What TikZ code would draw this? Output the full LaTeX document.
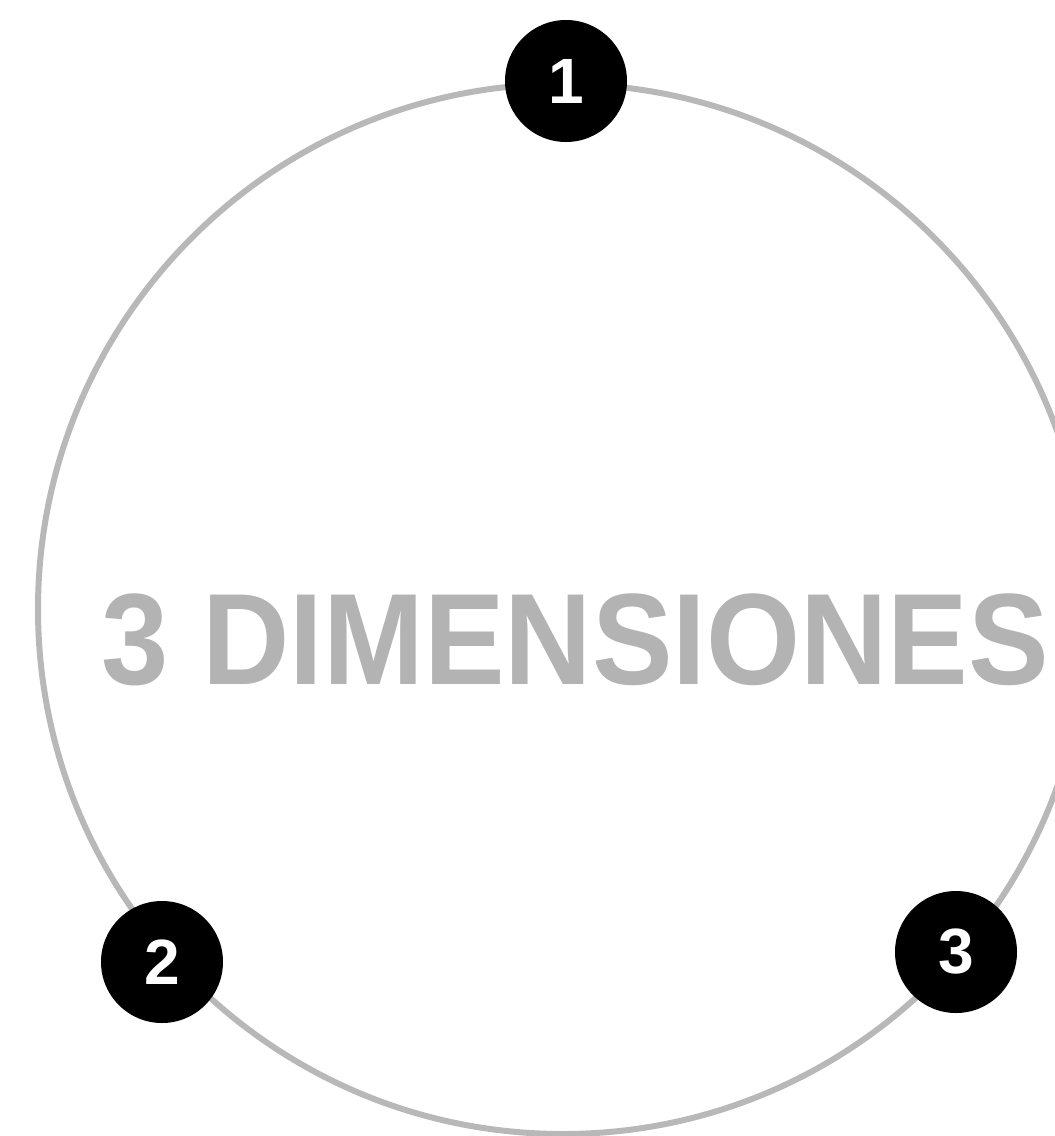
\documentclass[tikz,border=0pt]{standalone}
\usepackage{fontspec}
\setmainfont{Liberation Sans}
\definecolor{ringgray}{HTML}{B8B8B8}
\definecolor{textgray}{HTML}{B3B3B3}
\tikzset{
  ring/.style={draw=ringgray, line width=6pt},
  numdot/.style={circle, fill=black, minimum size=122pt, inner sep=0pt, text=white, font=\fontsize{64}{64}\selectfont\bfseries},
  title/.style={text=textgray, font=\fontsize{130}{130}\selectfont\bfseries, inner sep=0pt, anchor=center}
}
\begin{document}
\begin{tikzpicture}[x=1pt,y=-1pt]
\useasboundingbox (0,0) rectangle (1055,1136);
\clip (0,0) rectangle (1055,1136);
\coordinate (c) at (563,609);
\draw[ring] (c) circle (525);
\node[title] (t) at (575.5,639.5) {\scalebox{0.93}[1]{\vphantom{I}3 DIMENSIONES}};
\node[numdot] (n1) at (566,81) {1};
\node[numdot] (n2) at (162,962) {2};
\node[numdot] (n3) at (956,952) {3};
\end{tikzpicture}
\end{document}
